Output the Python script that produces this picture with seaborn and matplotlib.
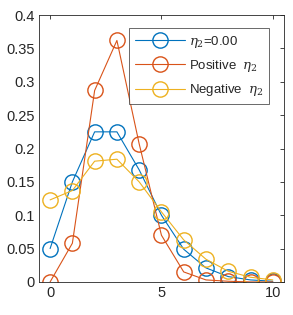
import numpy as np
import pandas as pd
import matplotlib
matplotlib.use('Agg')
import matplotlib.pyplot as plt
import seaborn as sns

sns.set_style('white')
plt.rcParams['font.family'] = ['Liberation Sans', 'DejaVu Sans']
plt.rcParams['mathtext.fontset'] = 'dejavuserif'

# data
k = [0, 1, 2, 3, 4, 5, 6, 7, 8, 9, 10]
p_zero = [0.050, 0.150, 0.225, 0.225, 0.168, 0.100, 0.049, 0.021, 0.008, 0.003, 0.001]
p_pos = [0.000, 0.058, 0.287, 0.362, 0.207, 0.070, 0.015, 0.003, 0.001, 0.000, 0.000]
p_neg = [0.123, 0.137, 0.181, 0.184, 0.150, 0.105, 0.063, 0.034, 0.016, 0.007, 0.003]
labels = [r'$\eta_2$=0.00', r'Positive  $\eta_2$', r'Negative  $\eta_2$']
colors = ['#0072BD', '#D95319', '#EDB120']

fig = plt.figure(figsize=(2.93, 3.15), dpi=100)
ax = fig.add_axes([0.133, 0.105, 0.836, 0.847])

for vals, lab, c in zip([p_zero, p_pos, p_neg], labels, colors):
    df = pd.DataFrame({'k': k, 'p': vals})
    sns.lineplot(data=df, x='k', y='p', ax=ax, color=c, lw=0.8, marker='o',
                 ms=11, markerfacecolor='none', markeredgecolor=c,
                 markeredgewidth=1.0, label=lab)

ax.set_xlim(-0.5, 10.5)
ax.set_ylim(0, 0.4)
ax.set_xticks([0, 5, 10])
yt = np.round(np.arange(0, 0.401, 0.05), 2)
ax.set_yticks(yt)
ax.set_yticklabels(['0' if v == 0 else f'{v:g}' for v in yt])
ax.set_xlabel('')
ax.set_ylabel('')
ax.tick_params(direction='in', length=3, width=0.6, top=True, right=True,
               labelsize=10.5, colors='#262626', labelcolor='#262626', pad=3)
for s in ax.spines.values():
    s.set_color('#262626')
    s.set_linewidth(0.6)

leg = ax.legend(loc='upper right', bbox_to_anchor=(0.94, 0.952),
                fontsize=9.5, handlelength=3.8, frameon=True, fancybox=False,
                borderpad=0.45, labelspacing=0.62, handletextpad=0.3,
                borderaxespad=0)
leg.get_frame().set_edgecolor('#262626')
leg.get_frame().set_linewidth(0.6)

fig.savefig('out.png', dpi=100)
